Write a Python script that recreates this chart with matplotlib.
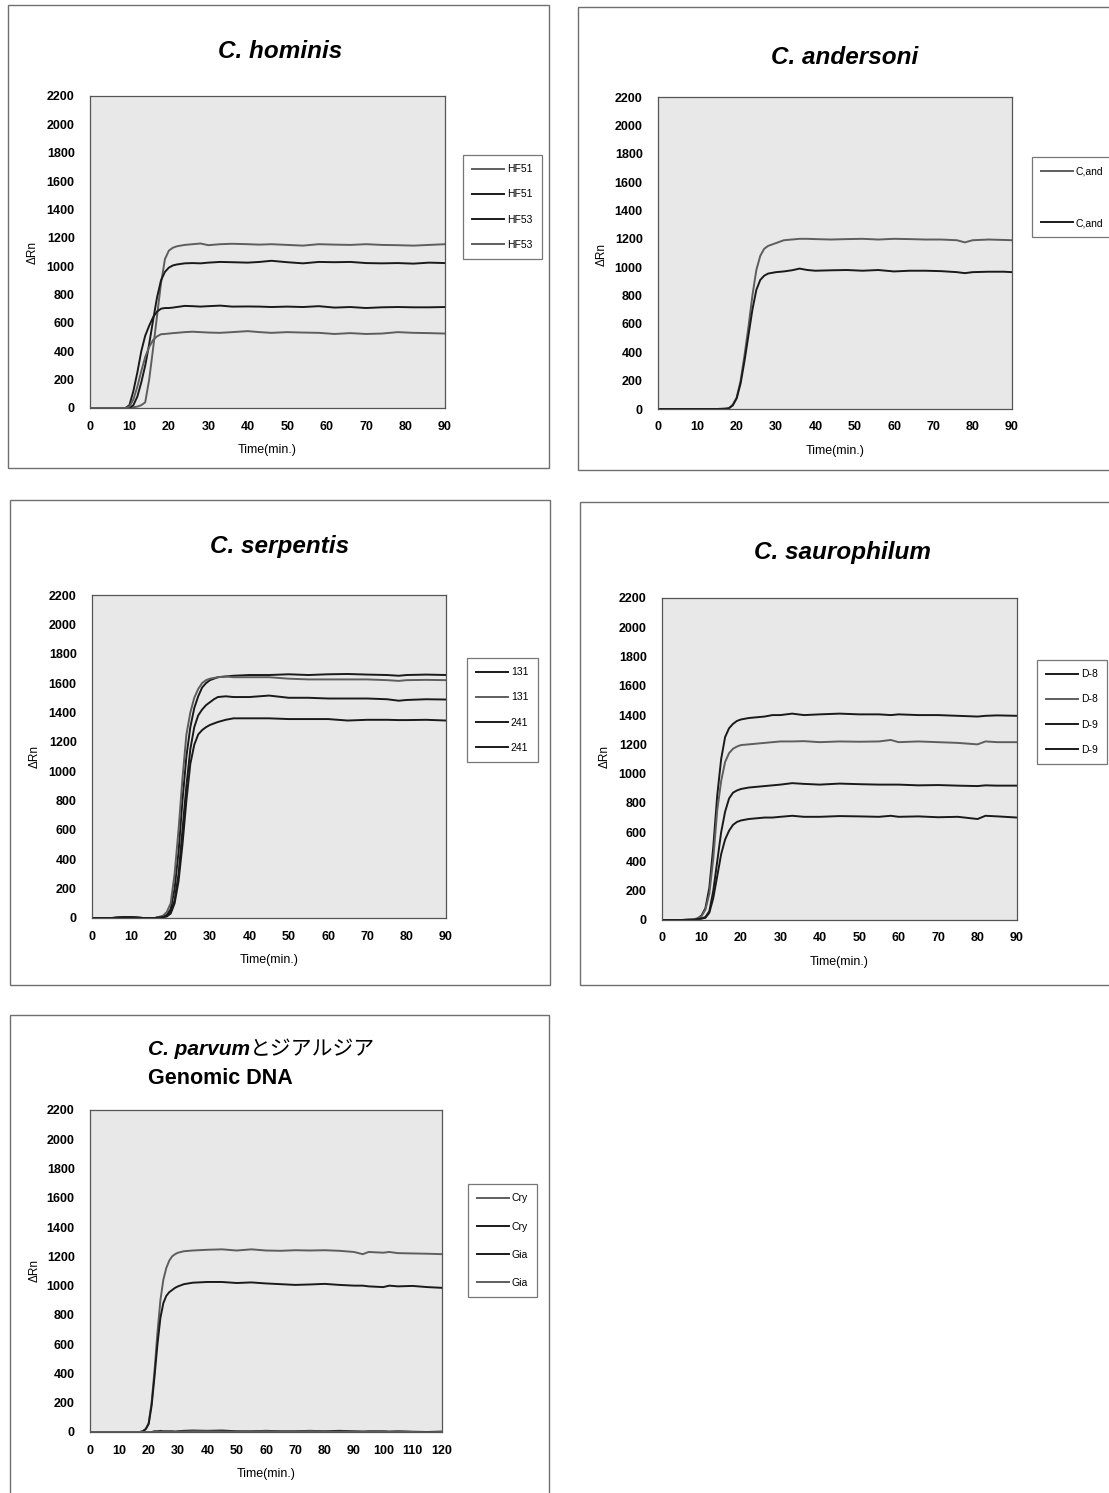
import matplotlib
matplotlib.use("Agg")
import matplotlib.pyplot as plt
from matplotlib.patches import Rectangle

W, H = 1109, 1493

# --- data (time in min, delta Rn) ---
t1 = [0, 5, 9, 10, 11, 12, 13, 14, 15, 16, 17, 18, 19, 20, 21, 22, 24, 26, 28, 30,
      33, 36, 40, 43, 46, 50, 54, 58, 62, 66, 70, 74, 78, 82, 86, 90]
hf51_a = [0, 0, 0, 0, 5, 10, 20, 40, 200, 420, 650, 880, 1050, 1110, 1130, 1140, 1150, 1155, 1160, 1148,
          1155, 1158, 1155, 1152, 1155, 1150, 1145, 1155, 1152, 1150, 1155, 1150, 1148, 1145, 1150, 1155]
hf51_b = [0, 0, 0, 0, 20, 80, 180, 300, 450, 620, 780, 900, 960, 990, 1005, 1012, 1020, 1022, 1020, 1025,
          1030, 1028, 1025, 1030, 1038, 1028, 1020, 1030, 1028, 1030, 1022, 1020, 1022, 1018, 1025, 1022]
hf53_a = [0, 0, 0, 20, 120, 250, 400, 510, 580, 640, 680, 700, 705, 705, 708, 712, 720, 718, 715, 718,
          722, 715, 716, 715, 712, 715, 712, 718, 708, 712, 705, 710, 712, 710, 710, 712]
hf53_b = [0, 0, 0, 10, 60, 150, 260, 360, 430, 480, 505, 520, 522, 525, 528, 530, 535, 538, 535, 532,
          530, 535, 542, 535, 530, 535, 532, 530, 522, 528, 522, 525, 535, 530, 528, 525]
labels1 = ["HF51", "HF51", "HF53", "HF53"]

t2 = [0, 5, 10, 15, 17, 18, 19, 20, 21, 22, 23, 24, 25, 26, 27, 28, 29, 30, 32, 34, 36, 38, 40,
      44, 48, 52, 56, 60, 64, 68, 72, 76, 78, 80, 84, 88, 90]
cand_a = [0, 0, 0, 0, 2, 5, 30, 80, 200, 380, 580, 800, 980, 1080, 1130, 1150, 1160, 1170, 1190, 1195, 1200, 1200, 1198,
          1195, 1198, 1200, 1195, 1200, 1198, 1195, 1195, 1190, 1175, 1190, 1195, 1192, 1190]
cand_b = [0, 0, 0, 0, 2, 5, 25, 75, 180, 340, 520, 700, 840, 910, 940, 955, 960, 965, 970, 978, 990, 980, 975,
          978, 980, 975, 980, 970, 975, 975, 972, 965, 958, 965, 968, 968, 965]
labels2 = ["C,and", "C,and"]

t3 = [0, 5, 8, 10, 13, 16, 18, 19, 20, 21, 22, 23, 24, 25, 26, 27, 28, 29, 30, 31, 32, 34, 36,
      40, 45, 50, 55, 60, 65, 70, 75, 78, 80, 85, 90]
s131_a = [0, 0, 5, 5, 0, 0, 10, 20, 60, 200, 450, 800, 1100, 1300, 1430, 1510, 1570, 1600, 1620, 1630, 1640, 1645, 1650,
          1655, 1655, 1660, 1655, 1660, 1662, 1658, 1655, 1650, 1655, 1658, 1655]
s131_b = [0, 0, 5, 5, 0, 0, 15, 40, 100, 300, 600, 950, 1250, 1400, 1500, 1560, 1600, 1620, 1630, 1635, 1640, 1645, 1640,
          1640, 1640, 1630, 1625, 1625, 1625, 1625, 1620, 1615, 1620, 1622, 1620]
s241_a = [0, 0, 5, 5, 0, 0, 5, 15, 40, 120, 300, 600, 900, 1150, 1300, 1380, 1420, 1450, 1470, 1490, 1505, 1510, 1505,
          1505, 1515, 1500, 1500, 1495, 1495, 1495, 1490, 1480, 1485, 1490, 1488]
s241_b = [0, 0, 5, 5, 0, 0, 5, 10, 30, 100, 250, 500, 800, 1050, 1180, 1250, 1280, 1300, 1315, 1325, 1335, 1350, 1360,
          1360, 1360, 1355, 1355, 1355, 1345, 1350, 1350, 1348, 1348, 1350, 1345]
labels3 = ["131", "131", "241", "241"]

t4 = [0, 5, 8, 9, 10, 11, 12, 13, 14, 15, 16, 17, 18, 19, 20, 22, 24, 26, 28, 30, 33, 36,
      40, 45, 50, 55, 58, 60, 65, 70, 75, 80, 82, 85, 90]
d8_a = [0, 0, 5, 10, 30, 80, 220, 500, 850, 1100, 1250, 1310, 1340, 1360, 1370, 1380, 1385, 1390, 1400, 1400, 1410, 1400,
        1405, 1410, 1405, 1405, 1400, 1405, 1400, 1400, 1395, 1390, 1395, 1398, 1395]
d8_b = [0, 0, 5, 10, 25, 70, 180, 420, 750, 950, 1080, 1140, 1170, 1185, 1195, 1200, 1205, 1210, 1215, 1220, 1220, 1222,
        1215, 1220, 1218, 1220, 1230, 1215, 1220, 1215, 1210, 1200, 1220, 1215, 1215]
d9_a = [0, 0, 0, 5, 10, 20, 60, 200, 400, 600, 740, 830, 870, 885, 895, 905, 910, 915, 920, 925, 935, 930,
        925, 932, 928, 925, 925, 925, 920, 922, 918, 915, 920, 918, 918]
d9_b = [0, 0, 0, 5, 10, 15, 50, 150, 300, 450, 550, 610, 650, 670, 680, 690, 695, 700, 700, 705, 712, 705,
        705, 710, 708, 705, 712, 705, 708, 702, 705, 690, 712, 708, 700]
labels4 = ["D-8", "D-8", "D-9", "D-9"]

t5 = [0, 5, 10, 15, 17, 18, 19, 20, 21, 22, 23, 24, 25, 26, 27, 28, 29, 30, 32, 35, 40, 45, 50, 55, 60,
      65, 70, 75, 80, 85, 90, 93, 95, 100, 102, 105, 110, 115, 120]
cry_a = [0, 0, 0, 0, 0, 5, 20, 60, 200, 420, 680, 900, 1040, 1120, 1170, 1200, 1215, 1225, 1235, 1240, 1245, 1248, 1240, 1248, 1240,
         1238, 1242, 1240, 1242, 1238, 1230, 1215, 1230, 1225, 1230, 1222, 1220, 1218, 1215]
cry_b = [0, 0, 0, 0, 0, 5, 20, 55, 180, 380, 600, 780, 880, 930, 955, 970, 985, 995, 1010, 1020, 1025, 1025, 1018, 1022, 1015,
         1010, 1005, 1008, 1012, 1005, 1000, 1000, 995, 990, 1000, 995, 998, 990, 985]
gia_a = [0, 0, 0, 0, 0, 0, 0, 0, 0, 5, 5, 8, 5, 5, 5, 5, 3, 5, 8, 10, 8, 10, 5, 5, 8,
         5, 5, 8, 5, 8, 5, 3, 5, 5, 3, 5, 2, 0, 3]
gia_b = [0, 0, 0, 0, 0, 0, 0, 0, 0, 0, 3, 3, 2, 2, 3, 0, 2, 2, 3, 5, 5, 3, 2, 3, 5,
         2, 3, 5, 3, 2, 3, 2, 0, 2, 0, 3, 0, -2, 0]
labels5 = ["Cry", "Cry", "Gia", "Gia"]

yticks = list(range(0, 2201, 200))

DARK = "#1a1a1a"
LIGHT = "#5e5e5e"
SANS = ["Liberation Sans", "DejaVu Sans"]

fig = plt.figure(figsize=(W / 100, H / 100), dpi=100)
fig.patch.set_facecolor("white")


def fx(px):
    return px / W


def fy(py):
    return 1 - py / H


def frame(x0, y0, x1, y1):
    fig.patches.append(Rectangle((fx(x0), fy(y1)), fx(x1 - x0), (y1 - y0) / H,
                                 transform=fig.transFigure, fill=False,
                                 edgecolor="#707070", linewidth=1.0))


def panel(box, t, series, labels, colors, xmax, leg_xy, leg_space, ylab_xy):
    x0, ytop, x1, ybot = box
    ax = fig.add_axes([fx(x0), fy(ybot), fx(x1 - x0), (ybot - ytop) / H])
    ax.set_facecolor("#e8e8e8")
    for s, lab, c in zip(series, labels, colors):
        ax.plot(t, s, color=c, linewidth=1.4, label=lab)
    ax.set_xlim(0, xmax)
    ax.set_ylim(0, 2200)
    ax.set_yticks(yticks)
    ax.set_xticks(list(range(0, xmax + 1, 10)))
    ax.tick_params(length=0, labelsize=9)
    ax.tick_params(axis="x", pad=9)
    ax.tick_params(axis="y", pad=11)
    for lbl in ax.get_xticklabels() + ax.get_yticklabels():
        lbl.set_family(SANS)
        lbl.set_fontweight("bold")
    for sp in ax.spines.values():
        sp.set_color("#555555")
        sp.set_linewidth(0.9)
    ax.set_xlabel("Time(min.)", fontsize=9, family=SANS, labelpad=8)
    fig.text(fx(ylab_xy[0]), fy(ylab_xy[1]), "ΔRn", rotation=90, fontsize=8.5,
             family=SANS, ha="center", va="center")
    leg = ax.legend(loc="upper left", bbox_to_anchor=(fx(leg_xy[0]), fy(leg_xy[1])),
                    bbox_transform=fig.transFigure, borderaxespad=0,
                    frameon=True, fancybox=False, edgecolor="#555555",
                    handlelength=3.0, handletextpad=0.3, labelspacing=leg_space,
                    borderpad=0.9, prop={"family": SANS, "size": 7.5})
    leg.get_frame().set_linewidth(0.9)
    return ax


def title(x, y, txt, ha="center", va="center", size=17.5):
    return fig.text(fx(x), fy(y), txt, fontsize=size, fontweight="bold", style="italic",
                    family=SANS, ha=ha, va=va)


# panel frames
frame(8, 5, 549, 468)
frame(578, 7, 1115, 470)
frame(10, 500, 550, 985)
frame(580, 502, 1115, 985)
frame(10, 1015, 549, 1500)

panel((90, 96, 445, 408), t1, [hf51_a, hf51_b, hf53_a, hf53_b], labels1,
      [LIGHT, DARK, DARK, LIGHT], 90, (463, 155), 1.45, (33, 252))
title(280, 52, "C. hominis")

panel((658, 97, 1012, 409), t2, [cand_a, cand_b], labels2,
      [LIGHT, DARK], 90, (1032, 157), 4.0, (602, 255))
title(845, 57, "C. andersoni")

panel((92, 595, 446, 918), t3, [s131_a, s131_b, s241_a, s241_b], labels3,
      [DARK, LIGHT, DARK, DARK], 90, (467, 658), 1.45, (35, 757))
title(280, 547, "C. serpentis")

panel((662, 598, 1017, 920), t4, [d8_a, d8_b, d9_a, d9_b], labels4,
      [DARK, LIGHT, DARK, DARK], 90, (1037, 660), 1.45, (605, 757))
title(842, 552, "C. saurophilum")

panel((90, 1110, 442, 1432), t5, [cry_a, cry_b, gia_a, gia_b], labels5,
      [LIGHT, DARK, DARK, LIGHT], 120, (468, 1184), 1.75, (35, 1270))

# two-font title line: latin part bold italic, Japanese part from a CJK font
t_a = title(148, 1055, "C. parvum", ha="left", va="baseline", size=15)
fig.canvas.draw()
bb = t_a.get_window_extent()
px1 = fig.transFigure.inverted().transform((bb.x1, 0))[0]
fig.text(px1, fy(1055), "とジアルジア", fontsize=15, family=["Noto Sans CJK JP"],
         ha="left", va="baseline")
fig.text(fx(148), fy(1079), "Genomic DNA", fontsize=15.5, fontweight="bold",
         family=SANS, ha="left", va="center")

fig.savefig("out.png", dpi=100)
